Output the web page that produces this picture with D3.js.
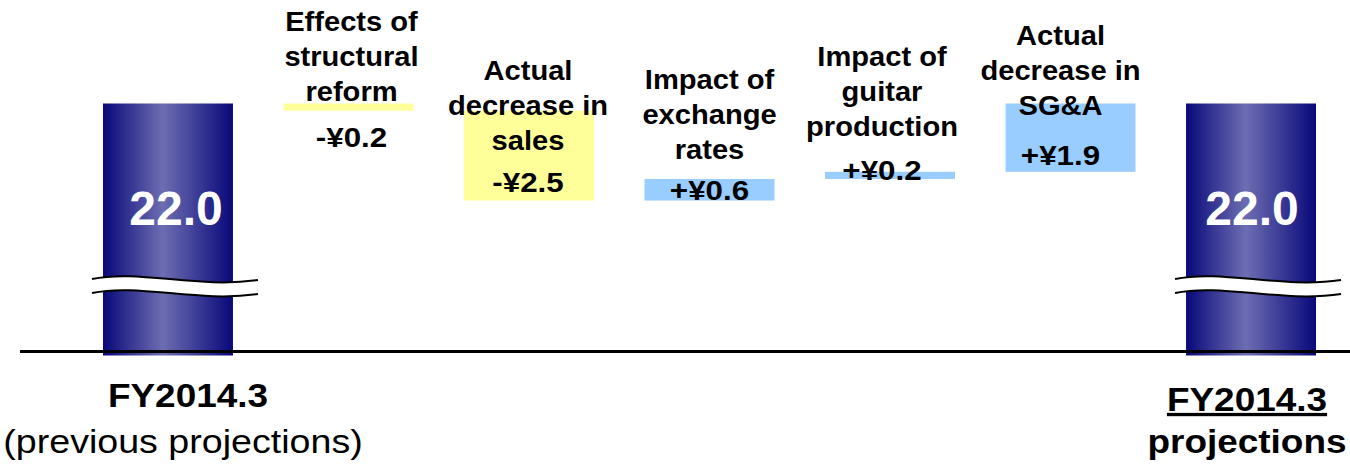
<!DOCTYPE html>
<html>
<head>
<meta charset="utf-8">
<script src="https://cdn.jsdelivr.net/npm/d3@7"></script>
<style>
  html, body { margin: 0; padding: 0; background: #ffffff; }
  svg { display: block; }
  text { font-family: "Liberation Sans", Arial, sans-serif; }
</style>
</head>
<body>
<svg id="chart" width="1350" height="464"></svg>
<script>
// ---- data (¥ billion) ----
const categories = ["FY2014.3 prev", "reform", "sales", "fx", "guitar", "sga", "FY2014.3"];
const startValue = 22.0;
const endValue = 22.0;
const deltas = [-0.2, -2.5, 0.6, 0.2, 1.9];
const stepLabels = [
  ["Effects of", "structural", "reform"],
  ["Actual", "decrease in", "sales"],
  ["Impact of", "exchange", "rates"],
  ["Impact of", "guitar", "production"],
  ["Actual", "decrease in", "SG&A"]
];
const totalTitles = ["FY2014.3", "FY2014.3"];
const totalSubtitles = ["(previous projections)", "projections"];

// ---- layout ----
const W = 1350;
const baselineY = 351.5;
const axisFloor = 15.1;          // value at the baseline; the axis is broken below it
const lineGap = 35;
const stepTitleY = [31, 80, 89, 66, 45];
const stepValueY = [147, 192, 200, 180, 165];
const stepDx = [3, -1, 0, -8, -10];
const totalValueDx = [8, 1];
const totalTitleX = [188, 1247];
const totalSubX = [183, 1247];
const subScale = [1.14, 1.12];
const breakY = 277;

const svg = d3.select("#chart");

const x = d3.scaleBand()
  .domain(categories)
  .range([103, 1316])
  .paddingInner(0.28)
  .paddingOuter(0);

const y = d3.scaleLinear()
  .domain([axisFloor, startValue])
  .range([baselineY, 103.5]);

// waterfall steps
let running = startValue;
const steps = deltas.map((d, i) => {
  const from = running;
  running += d;
  return { key: categories[i + 1], delta: d, from, to: running, i };
});

// gradient for the total bars
const defs = svg.append("defs");
const grad = defs.append("linearGradient")
  .attr("id", "barGrad")
  .attr("x1", "0%").attr("x2", "100%").attr("y1", "0%").attr("y2", "0%");
grad.append("stop").attr("offset", "0%").attr("stop-color", "#08087a");
grad.append("stop").attr("offset", "46%").attr("stop-color", "#6d6db2");
grad.append("stop").attr("offset", "100%").attr("stop-color", "#08087a");

// total bars
const totals = [
  { key: categories[0], value: startValue, idx: 0 },
  { key: categories[categories.length - 1], value: endValue, idx: 1 }
];

svg.selectAll("rect.total")
  .data(totals)
  .join("rect")
  .attr("class", "total")
  .attr("x", d => x(d.key))
  .attr("y", d => y(d.value))
  .attr("width", x.bandwidth())
  .attr("height", d => y(axisFloor) - y(d.value) + 4)
  .attr("fill", "url(#barGrad)");

// step boxes
svg.selectAll("rect.step")
  .data(steps)
  .join("rect")
  .attr("class", "step")
  .attr("x", d => x(d.key))
  .attr("y", d => y(Math.max(d.from, d.to)))
  .attr("width", x.bandwidth())
  .attr("height", d => Math.abs(y(d.from) - y(d.to)))
  .attr("fill", d => d.delta < 0 ? "#ffff99" : "#99ccff");

// axis break marks across the total bars
totals.forEach(d => {
  const cx = x(d.key) + x.bandwidth() / 2;
  const x0 = cx - 76, x1 = cx + 90;
  const curve = (yy) => `M${x0},${yy + 2} C${x0 + 47},${yy - 8} ${x1 - 60},${yy + 12} ${x1},${yy + 3}`;
  const back = (yy) => `C${x1 - 60},${yy + 12} ${x0 + 47},${yy - 8} ${x0},${yy + 2}`;
  const gap = 14;
  svg.append("path")
    .attr("d", `${curve(breakY)} L${x1},${breakY + gap + 3} ${back(breakY + gap)} Z`)
    .attr("fill", "#ffffff");
  [breakY, breakY + gap].forEach(yy => {
    svg.append("path")
      .attr("d", curve(yy))
      .attr("fill", "none")
      .attr("stroke", "#000")
      .attr("stroke-width", 2);
  });
});

// baseline
svg.append("line")
  .attr("x1", 20).attr("x2", W)
  .attr("y1", baselineY).attr("y2", baselineY)
  .attr("stroke", "#000")
  .attr("stroke-width", 3);

// values inside the total bars
svg.selectAll("text.totalValue")
  .data(totals)
  .join("text")
  .attr("class", "totalValue")
  .attr("x", d => x(d.key) + x.bandwidth() / 2 + totalValueDx[d.idx])
  .attr("y", 225)
  .attr("text-anchor", "middle")
  .attr("font-size", 48)
  .attr("font-weight", "bold")
  .attr("fill", "#ffffff")
  .text(d => d3.format(".1f")(d.value));

// step titles and values
const fmtDelta = d => (d < 0 ? "-" : "+") + "¥" + d3.format(".1f")(Math.abs(d));

steps.forEach(s => {
  const cx = x(s.key) + x.bandwidth() / 2 + stepDx[s.i];
  const g = svg.append("g");
  stepLabels[s.i].forEach((line, j) => {
    g.append("text")
      .attr("transform", `translate(${cx},${stepTitleY[s.i] + j * lineGap}) scale(1.04,1)`)
      .attr("text-anchor", "middle")
      .attr("font-size", 28)
      .attr("font-weight", "bold")
      .attr("fill", "#000")
      .text(line);
  });
  g.append("text")
    .attr("transform", `translate(${cx},${stepValueY[s.i]}) scale(1.12,1)`)
    .attr("text-anchor", "middle")
    .attr("font-size", 28)
    .attr("font-weight", "bold")
    .attr("fill", "#000")
    .text(fmtDelta(s.delta));
});

// category labels under the totals
totals.forEach(d => {
  svg.append("text")
    .attr("transform", `translate(${totalTitleX[d.idx]},${d.idx === 0 ? 407 : 411}) scale(1.12,1)`)
    .attr("text-anchor", "middle")
    .attr("font-size", 33)
    .attr("font-weight", "bold")
    .attr("text-decoration", d.idx === 1 ? "underline" : null)
    .attr("fill", "#000")
    .text(totalTitles[d.idx]);
  svg.append("text")
    .attr("transform", `translate(${totalSubX[d.idx]},453) scale(${subScale[d.idx]},1)`)
    .attr("text-anchor", "middle")
    .attr("font-size", 33)
    .attr("font-weight", d.idx === 1 ? "bold" : "normal")
    .attr("fill", "#000")
    .text(totalSubtitles[d.idx]);
});
</script>
</body>
</html>
